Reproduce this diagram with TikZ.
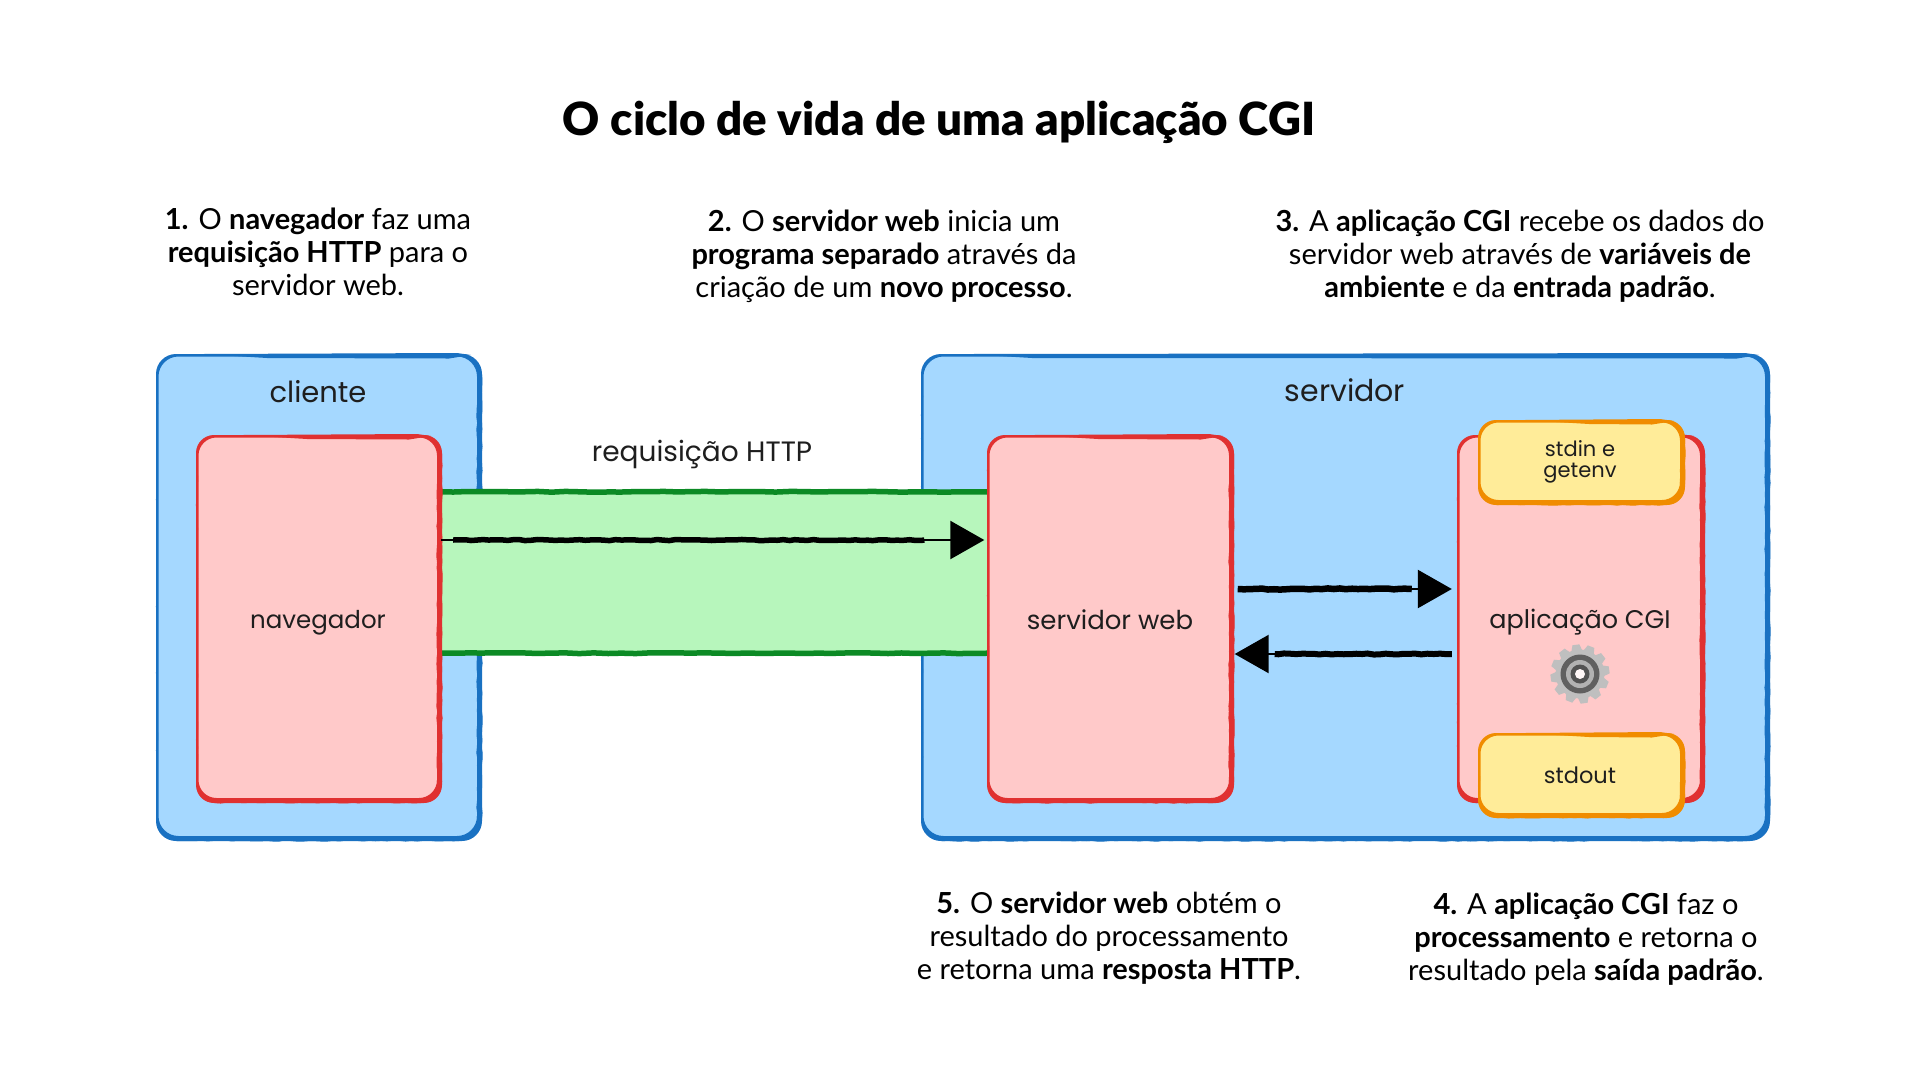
\documentclass[tikz,border=0pt]{standalone}
\usepackage{fontspec}
\usetikzlibrary{arrows.meta,decorations.pathmorphing,calc}
\setmainfont{Lato}
\newfontfamily\titlefont{Lato Black}
\newfontfamily\handfont{Poppins}
\definecolor{bluefill}{HTML}{A5D8FF}
\definecolor{bluestroke}{HTML}{1971C2}
\definecolor{redfill}{HTML}{FFC9C9}
\definecolor{redstroke}{HTML}{E03131}
\definecolor{greenfill}{HTML}{B7F6BC}
\definecolor{greenstroke}{HTML}{0C8A25}
\definecolor{yellowfill}{HTML}{FFEC99}
\definecolor{orangestroke}{HTML}{F08C00}
\definecolor{inkcol}{HTML}{1E1E1E}
\tikzset{
 boxbase/.style={rectangle,inner sep=0pt,rounded corners=#1},
 hand/.style={font=\handfont\fontsize{#1}{#1}\selectfont,text=inkcol,inner sep=0pt,align=center},
 para/.style={font=\fontsize{29}{33}\selectfont,text=black,inner sep=0pt,align=center},
 rough/.style={decorate,decoration={random steps,segment length=6pt,amplitude=0.6pt}},
 softrough/.style={decorate,decoration={random steps,segment length=14pt,amplitude=0.4pt}},
 tipline/.style={draw=black,line width=2.4pt,-{Triangle[length=34pt,width=38pt]}},
 shaftline/.style={rough,draw=black,line width=#1,line cap=butt},
 edgeline/.style={softrough,draw=greenstroke,line width=#1},
}
% outline with varying thickness: thin at top-left, heavy at right and bottom
\newcommand{\sketchedge}[6]{% x0 y0 x1 y1 radius colour
  \fill[#6,even odd rule]
    [rounded corners=#5pt] (#1-1,#2-1) rectangle (#3+3,#4+3)
    [rounded corners=#5pt] (#1+1.5,#2+1.5) rectangle (#3-2,#4-2);
  \fill[#6] (#1+45,#2-1) -- (#3-22,#2-2) -- (#3-8,#2) -- (#3-30,#2+3.5) -- (#1+110,#2+3) -- cycle;
  \draw[#6,rough,line width=1.2pt] (#3+2.5,#2+#5) -- (#3+2.5,#4-#5);
  \draw[#6,rough,line width=1.2pt] (#3-1.5,#2+#5+30) -- (#3-1.5,#4-#5);
  \draw[#6,rough,line width=1pt] (#1,#2+#5+10) -- (#1,#4-#5);
  \draw[#6,rough,line width=1.2pt] (#1+#5,#4+2.5) -- (#3-#5,#4+2.5);
}
\begin{document}
\begin{tikzpicture}[x=1pt,y=-1pt]
\pgfmathsetseed{4242}
\useasboundingbox (0,0) rectangle (1920,1080);
\fill[white] (0,0) rectangle (1920,1080);

\node[para,font=\titlefont\fontsize{45.7}{48}\selectfont] (titulo) at (939,122) {O ciclo de vida de uma aplicação CGI};

\node[para] (p1) at (318,252) {\textbf{1.} O \textbf{navegador} faz uma\\\textbf{requisição HTTP} para o\\servidor web.};
\node[para] (p2) at (884,256) {\textbf{2.} O \textbf{servidor web} inicia um\\\textbf{programa separado} através da\\criação de um \textbf{novo processo}.};
\node[para] (p3) at (1520,256) {\textbf{3.} A \textbf{aplicação CGI} recebe os dados do\\servidor web através de \textbf{variáveis de}\\\textbf{ambiente} e da \textbf{entrada padrão}.};
\node[para] (p5) at (1109,938) {\textbf{5.} O \textbf{servidor web} obtém o\\resultado do processamento\\e retorna uma \textbf{resposta HTTP}.};
\node[para] (p4) at (1586,939) {\textbf{4.} A \textbf{aplicação CGI} faz o\\\textbf{processamento} e retorna o\\resultado pela \textbf{saída padrão}.};

% containers
\node[boxbase=20pt,fill=bluefill,minimum width=322pt,minimum height=483pt] (cliente) at (318,596.5) {};
\sketchedge{157}{355}{479}{838}{20}{bluestroke}
\node[boxbase=20pt,fill=bluefill,minimum width=845pt,minimum height=483pt] (servidor) at (1345,596.5) {};
\sketchedge{922}{355}{1767}{838}{20}{bluestroke}
\node[hand=29] (lcliente) at (318,392) {cliente};
\node[hand=30] (lservidor) at (1345,390) {servidor};

% green channel
\node[rectangle,inner sep=0pt,fill=greenfill,minimum width=550pt,minimum height=163pt] (canal) at (715,572.5) {};
\draw[edgeline=5.5pt] ($(canal.north west)+(0,1)$) -- ($(canal.north east)+(0,1)$);
\draw[edgeline=5.5pt] ($(canal.south west)+(0,-1)$) -- ($(canal.south east)+(0,-1)$);
\node[hand=28] (lreq) at (702,454) {requisição HTTP};

% process boxes
\node[boxbase=18pt,fill=redfill,minimum width=242pt,minimum height=364pt] (navegador) at (318,618) {};
\sketchedge{197}{436}{439}{800}{18}{redstroke}
\node[hand=24.5] (lnav) at (318,623) {navegador};
\node[boxbase=18pt,fill=redfill,minimum width=243pt,minimum height=364pt] (web) at (1110,618) {};
\sketchedge{988}{436}{1231}{800}{18}{redstroke}
\node[hand=26] (lweb) at (1110,620) {servidor web};
\node[boxbase=18pt,fill=redfill,minimum width=244pt,minimum height=364pt] (aplic) at (1580,618) {};
\sketchedge{1458}{436}{1702}{800}{18}{redstroke}
\node[hand=25.5] (laplic) at (1580,622) {aplicação CGI};

% gear
\begin{scope}[shift={(1580,674)}]
  \foreach \a in {0,30,...,330}
    \fill[gray!50!white,rotate=\a+8] (-5.5,-23) -- (-3.5,-29.5) -- (3.5,-29.5) -- (5.5,-23) -- cycle;
  \fill[gray!50!white] (0,0) circle (24.5);
  \fill[gray!75!black] (0,0) circle (19.5);
  \fill[gray!60!white] (0,0) circle (14);
  \fill[gray!65!black] (0,0) circle (9.5);
  \fill[white!85!redfill] (0,0) circle (5);
\end{scope}

% I/O boxes
\node[boxbase=18pt,fill=yellowfill,minimum width=203pt,minimum height=81pt] (entrada) at (1580.5,461.5) {};
\sketchedge{1479}{421}{1682}{502}{18}{orangestroke}
\node[hand=21] (lentrada) at (1580,462) {stdin e\\getenv};
\node[boxbase=18pt,fill=yellowfill,minimum width=203pt,minimum height=81pt] (saida) at (1580.5,774.5) {};
\sketchedge{1479}{734}{1682}{815}{18}{orangestroke}
\node[hand=22.5] (lsaida) at (1580,775) {stdout};

% connectors
\coordinate (a1s) at ([xshift=2pt,yshift=78pt]navegador.east);
\coordinate (a1e) at ([xshift=-4pt,yshift=78pt]web.west);
\draw[tipline] (a1s) -- (a1e);
\draw[shaftline=5.5pt] ([xshift=12pt]a1s) -- ([xshift=-60pt]a1e);
\coordinate (a2s) at ([xshift=6pt,yshift=29pt]web.east);
\coordinate (a2e) at ([xshift=-6pt,yshift=29pt]aplic.west);
\draw[tipline] (a2s) -- (a2e);
\draw[shaftline=6.5pt] (a2s) -- ([xshift=-40pt]a2e);
\coordinate (a3s) at ([xshift=-6pt,yshift=-36pt]aplic.west);
\coordinate (a3e) at ([xshift=3pt,yshift=-36pt]web.east);
\draw[tipline] (a3s) -- (a3e);
\draw[shaftline=6pt] (a3s) -- ([xshift=40pt]a3e);
\end{tikzpicture}
\end{document}
